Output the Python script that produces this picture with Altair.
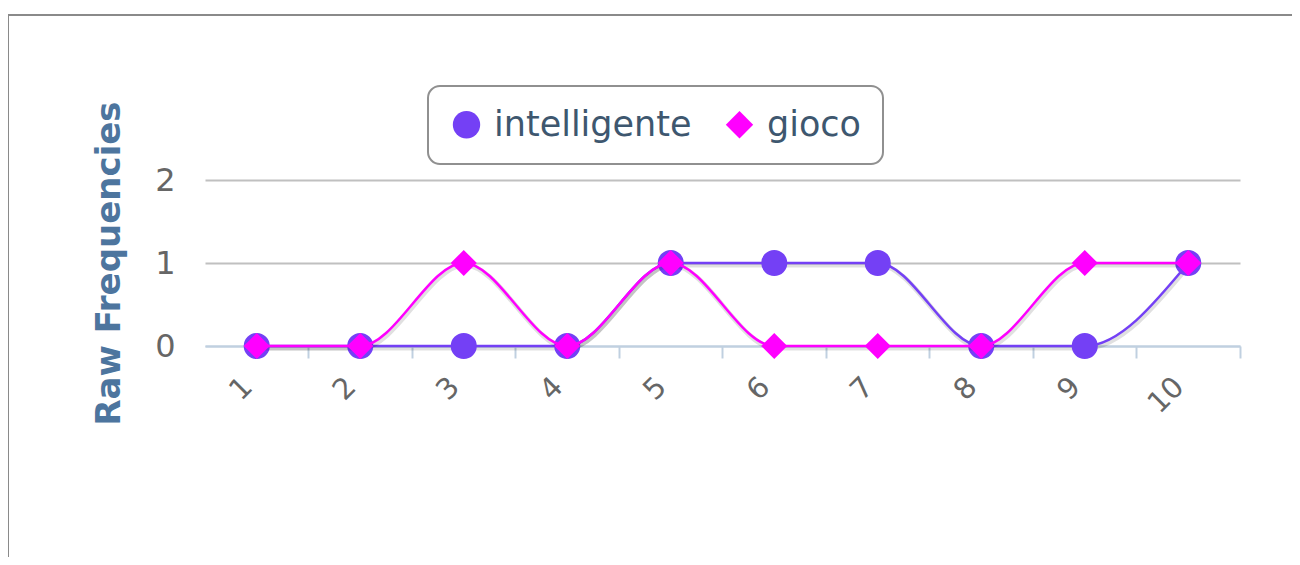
import altair as alt
import pandas as pd

categories = ["1", "2", "3", "4", "5", "6", "7", "8", "9", "10"]
intelligente = [0, 0, 0, 0, 1, 1, 1, 0, 0, 1]
gioco = [0, 0, 1, 0, 1, 0, 0, 0, 1, 1]
series_names = ["intelligente", "gioco"]
series_colors = ["#7440f5", "#ff00ff"]
series_shapes = ["circle", "diamond"]

rows = []
for name, vals in zip(series_names, [intelligente, gioco]):
    for c, v in zip(categories, vals):
        rows.append({"cat": c, "value": v, "series": name})
df = pd.DataFrame(rows)

W, H = 1035, 166

xenc = alt.X(
    "cat:O",
    sort=categories,
    scale=alt.Scale(type="band", paddingInner=0, paddingOuter=0),
    axis=alt.Axis(
        title=None,
        labelAngle=-45,
        labelAlign="right",
        labelBaseline="top",
        labelFontSize=29,
        labelFont="DejaVu Sans",
        labelColor="#666666",
        labelPadding=14,
        bandPosition=1,
        labelOffset=-19,
        tickSize=12,
        tickColor="#C0D0E0",
        tickWidth=2,
        domainColor="#C0D0E0",
        domainWidth=2,
        grid=False,
    ),
)
yenc = alt.Y(
    "value:Q",
    scale=alt.Scale(domain=[0, 2]),
    axis=alt.Axis(
        title="Raw Frequencies",
        tickMinStep=1,
        titleFontSize=34,
        titleFont="DejaVu Sans",
        titleFontWeight="bold",
        titleColor="#4D759E",
        titleX=-96,
        titleBaseline="middle",
        labelFontSize=32,
        labelFont="DejaVu Sans",
        labelColor="#666666",
        labelPadding=30,
        ticks=False,
        domain=False,
        grid=True,
        gridColor={"condition": {"test": "datum.value === 0", "value": "#C0D0E0"}, "value": "#C0C0C0"},
        gridWidth=2,
    ),
)

base = alt.Chart(df)

frame = alt.Chart(pd.DataFrame({"a": [0]})).mark_rect(
    fill="transparent", stroke="#8a8a8a", strokeWidth=2
).encode(
    x=alt.value(-197), y=alt.value(-165), x2=alt.value(1400), y2=alt.value(600)
)

layers = [frame]
for name, col in zip(series_names, series_colors):
    sub = base.transform_filter(alt.datum.series == name)
    shadow = sub.mark_line(
        interpolate="monotone", color="black", opacity=0.12, strokeWidth=5, xOffset=1, yOffset=2
    ).encode(x=xenc, y=yenc)
    line = sub.mark_line(interpolate="monotone", color=col, strokeWidth=2.5).encode(x=xenc, y=yenc)
    pts = sub.mark_point(filled=True, size=680, opacity=1).encode(
        x=xenc,
        y=yenc,
        color=alt.Color(
            "series:N",
            scale=alt.Scale(domain=series_names, range=series_colors),
            legend=alt.Legend(
                title=None,
                orient="none",
                direction="horizontal",
                legendX=223,
                legendY=-94,
                labelFontSize=35,
                labelFont="DejaVu Sans",
                labelColor="#3E576F",
                labelLimit=500,
                symbolSize=750,
                symbolStrokeWidth=0,
                labelOffset=10,
                columnPadding=30,
                padding=21,
                strokeColor="#909090",
                cornerRadius=12,
                fillColor="white",
            ),
        ),
        shape=alt.Shape(
            "series:N",
            scale=alt.Scale(domain=series_names, range=series_shapes),
        ),
    )
    layers += [shadow, line, pts]

chart = (
    alt.layer(*layers)
    .properties(
        width=W,
        height=H,
        background="white",
        autosize=alt.AutoSizeParams(type="none"),
        padding={"left": 197, "top": 172, "right": 52, "bottom": 211},
    )
    .configure_view(strokeWidth=0)
    .configure_legend(strokeWidth=2)
)

chart.save("out.html", embed_options={"renderer": "svg", "actions": False})
